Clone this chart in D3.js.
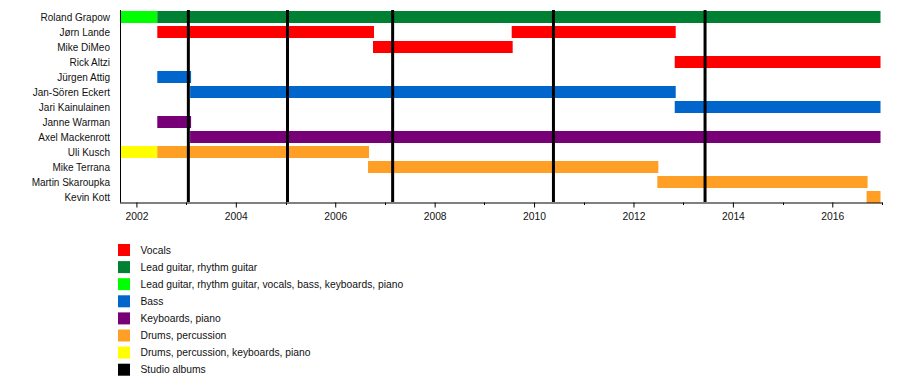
<!DOCTYPE html>
<html><head><meta charset="utf-8">
<script src="https://cdn.jsdelivr.net/npm/d3@7"></script>
<style>body{margin:0;background:#fff}svg{display:block;font-family:"Liberation Sans",Arial,sans-serif}</style>
</head><body><svg id="c" width="900" height="382"></svg>
<script>
const members = ["Roland Grapow","Jørn Lande","Mike DiMeo","Rick Altzi","Jürgen Attig","Jan-Sören Eckert","Jari Kainulainen","Janne Warman","Axel Mackenrott","Uli Kusch","Mike Terrana","Martin Skaroupka","Kevin Kott"];
const roles = ["Vocals","Lead guitar, rhythm guitar","Lead guitar, rhythm guitar, vocals, bass, keyboards, piano","Bass","Keyboards, piano","Drums, percussion","Drums, percussion, keyboards, piano","Studio albums"];
const roleColors = ["#FF0000","#008033","#00FF00","#0066CC","#770077","#FF9F26","#FFFF00","#000000"];
// periods: [member, role index, start year, end year]
const periods = [
  ["Roland Grapow",2,2001.69,2002.42],
  ["Roland Grapow",1,2002.42,2016.97],
  ["Jørn Lande",0,2002.42,2006.78],
  ["Jørn Lande",0,2009.55,2012.85],
  ["Mike DiMeo",0,2006.76,2009.57],
  ["Rick Altzi",0,2012.83,2016.97],
  ["Jürgen Attig",3,2002.42,2003.1],
  ["Jan-Sören Eckert",3,2003.08,2012.85],
  ["Jari Kainulainen",3,2012.83,2016.97],
  ["Janne Warman",4,2002.42,2003.1],
  ["Axel Mackenrott",4,2003.08,2016.97],
  ["Uli Kusch",6,2001.69,2002.42],
  ["Uli Kusch",5,2002.42,2006.68],
  ["Mike Terrana",5,2006.66,2012.5],
  ["Martin Skaroupka",5,2012.48,2016.71],
  ["Kevin Kott",5,2016.69,2016.97]
];
const albums = [2003.045,2005.04,2007.155,2010.39,2013.44];
const yearTicks = d3.range(2002,2017,2);
const minorTicks = d3.range(2003,2018,2);
const domainYears = [2001.69,2017.0];

const svg = d3.select("#c");
const x = d3.scaleLinear().domain(domainYears).range([121,882]);
const y = d3.scaleBand().domain(members).range([9.5,204.5]).paddingInner(0.2).paddingOuter(0.1);

svg.append("g").selectAll("rect").data(periods).join("rect")
  .attr("x",d=>x(d[2])).attr("width",d=>x(d[3])-x(d[2]))
  .attr("y",d=>y(d[0])).attr("height",y.bandwidth())
  .attr("fill",d=>roleColors[d[1]]);

svg.append("g").selectAll("line").data(albums).join("line")
  .attr("x1",d=>x(d)).attr("x2",d=>x(d)).attr("y1",10).attr("y2",202)
  .attr("stroke","#000").attr("stroke-width",3);

// labels
svg.append("g").selectAll("text").data(members).join("text")
  .attr("x",110).attr("y",d=>y(d)+y.bandwidth()/2).attr("dy","0.35em")
  .attr("text-anchor","end").attr("font-size",10).attr("fill","#111").text(d=>d);

// axes
svg.append("line").attr("x1",120.5).attr("x2",120.5).attr("y1",10).attr("y2",202.5).attr("stroke","#000");
const ax = svg.append("g").attr("transform","translate(0,202.5)")
  .call(d3.axisBottom(x).tickValues(yearTicks).tickFormat(d3.format("d")).tickSize(5).tickSizeOuter(0));
ax.select(".domain").attr("d",`M120,0.5H${x(2017)+0.5}`);
ax.selectAll("text").attr("font-size",10.3).attr("font-family","Liberation Sans, Arial, sans-serif").attr("fill","#111").attr("dy","0.95em");
svg.append("g").attr("transform","translate(0,202.5)").selectAll("line").data(minorTicks).join("line")
  .attr("x1",d=>Math.round(x(d))+0.5).attr("x2",d=>Math.round(x(d))+0.5).attr("y1",0).attr("y2",2.5).attr("stroke","#000");

// legend
const lg = svg.append("g").selectAll("g").data(roles).join("g")
  .attr("transform",(d,i)=>`translate(118,${244+i*17.1})`);
lg.append("rect").attr("width",12).attr("height",12).attr("fill",(d,i)=>roleColors[i]);
lg.append("text").attr("x",22.5).attr("y",6).attr("dy","0.35em").attr("font-size",10.3).attr("fill","#111").text(d=>d);
</script></body></html>
